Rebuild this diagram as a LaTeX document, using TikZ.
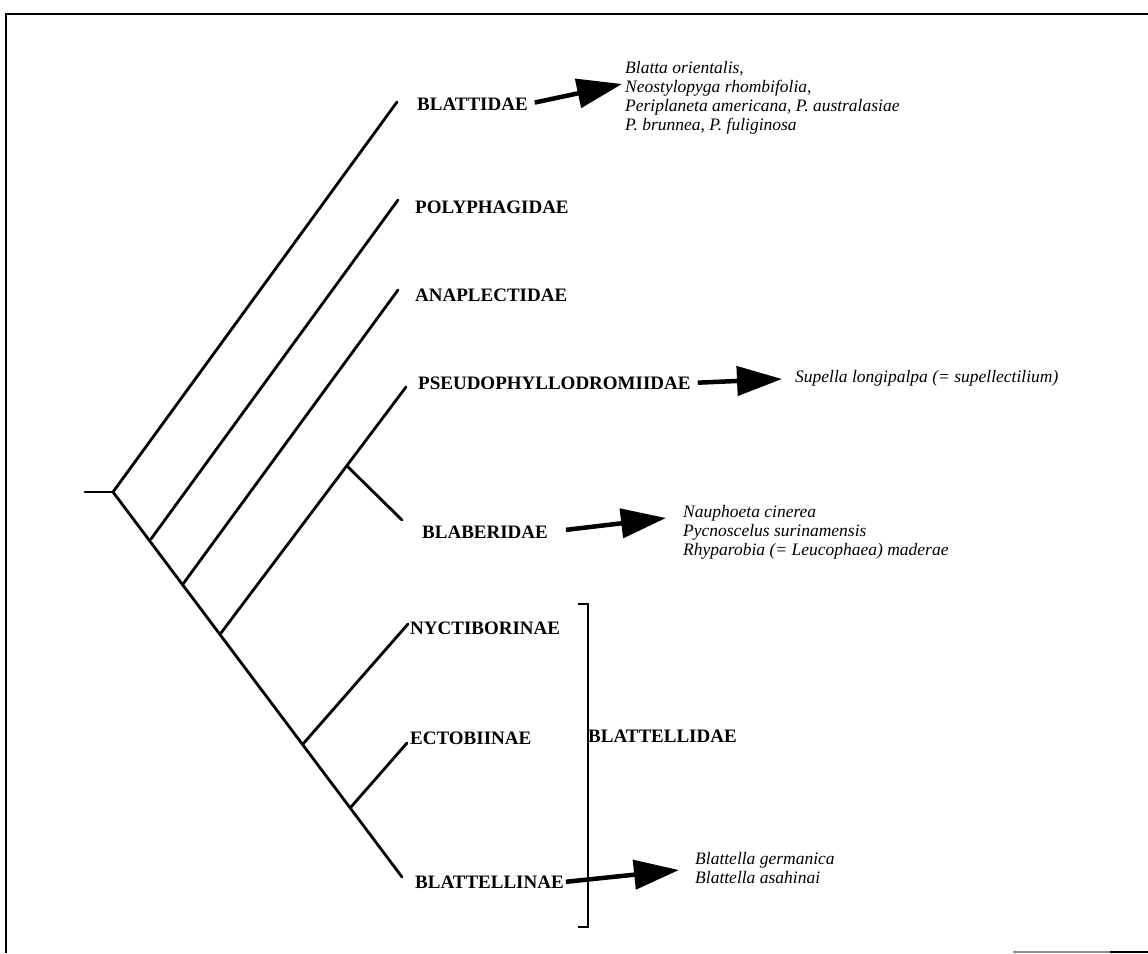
\documentclass[tikz,border=0pt]{standalone}
\usepackage{fontspec}
\setmainfont{Liberation Serif}
\usetikzlibrary{arrows.meta}
\tikzset{
  taxon/.style={anchor=west, inner sep=0pt, font=\fontsize{19}{21}\selectfont\bfseries},
  species/.style={anchor=north west, inner sep=0pt, align=left, font=\fontsize{17.5}{19}\selectfont\itshape},
  branch/.style={line width=2.8pt, line cap=round},
  bracket/.style={line width=2.2pt},
  frame/.style={line width=1.6pt},
  bigarrow/.style={line width=4.5pt, -{Triangle[length=45pt,width=29pt]}, shorten <=7pt},
}
\begin{document}
\begin{tikzpicture}[x=1pt,y=-1pt]
\useasboundingbox (0,0) rectangle (1148,953);
% frame
\draw[frame] (5,14) -- (1148,14);
\draw[frame] (6,14) -- (6,953);
\draw[frame,black!45] (1013,952) -- (1110,952);
\draw[frame] (1110,952) -- (1148,952);

% taxa labels
\node[taxon] (blattidae) at (417,104) {BLATTIDAE};
\node[taxon] (polyphagidae) at (415,207) {POLYPHAGIDAE};
\node[taxon] (anaplectidae) at (415,295) {ANAPLECTIDAE};
\node[taxon] (pseudo) at (418,383) {PSEUDOPHYLLODROMIIDAE};
\node[taxon] (blaberidae) at (422,532) {BLABERIDAE};
\node[taxon] (nyctiborinae) at (410,628) {NYCTIBORINAE};
\node[taxon] (ectobiinae) at (410,738) {ECTOBIINAE};
\node[taxon] (blattellinae) at (415,882) {BLATTELLINAE};
\node[taxon] (blattellidae) at (588,736) {BLATTELLIDAE};

% species lists
\node[species] (sp1) at (625,61) {Blatta orientalis,\\Neostylopyga rhombifolia,\\Periplaneta americana, P. australasiae\\P. brunnea, P. fuliginosa};
\node[species] (sp2) at (795,370) {Supella longipalpa (= supellectilium)};
\node[species] (sp3) at (683,505) {Nauphoeta cinerea\\Pycnoscelus surinamensis\\Rhyparobia (= Leucophaea) maderae};
\node[species] (sp4) at (695,852) {Blattella germanica\\Blattella asahinai};

% tree coordinates
\coordinate (stem) at (85,492);
\coordinate (root) at (113,492);
\coordinate (n2) at (151,539);
\coordinate (n3) at (183,584);
\coordinate (n4) at (221,633);
\coordinate (n5) at (303,744);
\coordinate (n6) at (351,807);
\coordinate (nb) at (347,466);
\coordinate (e1) at (397,102);
\coordinate (e2) at (398,200);
\coordinate (e3) at (398,290);
\coordinate (e4) at (406,387);
\coordinate (eb) at (402,520);
\coordinate (e5) at (408,624);
\coordinate (e6) at (407,743);
\coordinate (e7) at (402,877);

\draw[branch] (stem) -- (root);
\draw[branch] (root) -- (e1);
\draw[branch] (root) -- (e7);
\draw[branch] (n2) -- (e2);
\draw[branch] (n3) -- (e3);
\draw[branch] (n4) -- (e4);
\draw[branch] (nb) -- (eb);
\draw[branch] (n5) -- (e5);
\draw[branch] (n6) -- (e6);

% bracket
\coordinate (bt) at (578,604);
\coordinate (bb) at (578,927);
\draw[bracket] (bt) -- (588,604) -- (588,927) -- (bb);

% arrows
\coordinate (t1) at (622,84);
\coordinate (t2) at (782,379);
\coordinate (t3) at (666,518);
\coordinate (t4) at (679,870);
\draw[bigarrow] (blattidae.east) -- (t1);
\draw[bigarrow] (pseudo.east) -- (t2);
\draw[bigarrow,shorten <=18pt] (blaberidae.east) -- (t3);
\draw[bigarrow,shorten <=2pt] (blattellinae.east) -- (t4);
\end{tikzpicture}
\end{document}
